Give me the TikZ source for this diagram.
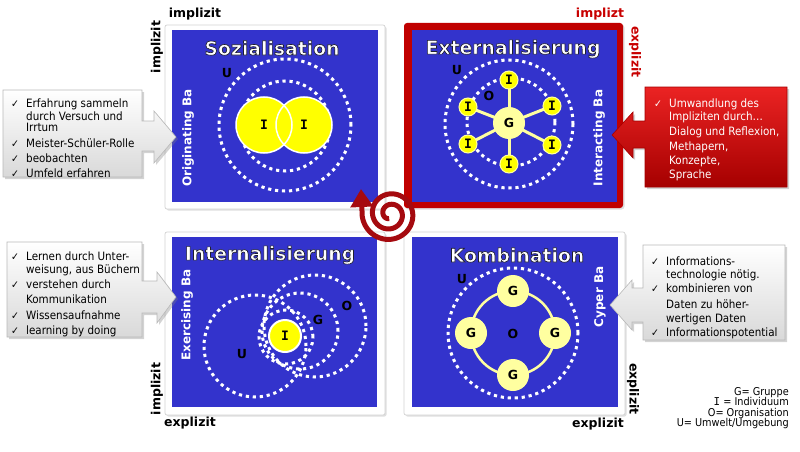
\documentclass[tikz,border=0pt]{standalone}
\usepackage{fontspec}
\setmainfont{DejaVu Sans}
\newfontfamily\cond{DejaVu Sans Condensed}
\newfontfamily\monob{DejaVu Sans Mono}
\usetikzlibrary{shadows,arrows.meta}
\definecolor{qblue}{RGB}{51,51,204}
\definecolor{fred}{RGB}{192,0,0}
\definecolor{spred}{RGB}{165,10,15}
\definecolor{pale}{RGB}{255,255,160}
\definecolor{yel}{RGB}{255,255,0}
\definecolor{lblred}{RGB}{200,0,0}
\definecolor{rtop}{RGB}{235,35,35}
\definecolor{rbot}{RGB}{165,0,0}
\newcommand\outl[1]{\special{pdf:literal direct 0.12 0.12 0.18 RG 0.65 w 2 Tr}#1\special{pdf:literal direct 0 Tr 1 G}}
\newcommand\ck{\makebox[15pt][l]{\fontsize{10.5}{10}\selectfont ✓}}
\begin{document}
\begin{tikzpicture}[x=1pt,y=-1pt,
  frm/.style={fill=white, draw=gray!35, line width=0.7pt, rounded corners=2pt,
    drop shadow={opacity=0.25, shadow xshift=1.5pt, shadow yshift=-1.5pt}},
  dots/.style={draw=white, line width=3pt, dash pattern=on 3.2pt off 3.8pt},
  title/.style={font=\bfseries\fontsize{18.8}{20}\selectfont, text=white, inner sep=0pt},
  ba/.style={font=\bfseries\fontsize{12}{14}\selectfont, text=white, rotate=90, inner sep=0pt},
  axl/.style={font=\bfseries\fontsize{12.5}{14}\selectfont, inner sep=0pt},
  lab/.style={font=\bfseries\fontsize{12.5}{14}\selectfont, inner sep=0pt},
  ilab/.style={font=\monob\bfseries\fontsize{13}{14}\selectfont, inner sep=0pt},
  yelc/.style={fill=yel, draw=white, line width=1.5pt},
  ic/.style={fill=yel, draw=pale, line width=1pt},
  spoke/.style={draw=pale, line width=3pt},
  callg/.style={draw=gray!55, line width=0.6pt, top color=white, bottom color=gray!30,
    drop shadow={opacity=0.35, shadow xshift=2pt, shadow yshift=-2pt}},
  callr/.style={draw=rbot, line width=0.6pt, top color=rtop, bottom color=rbot,
    drop shadow={opacity=0.35, shadow xshift=2pt, shadow yshift=-2pt}},
  ctext/.style={font=\cond\fontsize{11.5}{11.5}\selectfont, inner sep=0pt, anchor=north west}
]
\useasboundingbox (0,0) rectangle (800,452);

% frames
\path[frm] (165,25) rectangle (385,209);
\path[frm] (165,232) rectangle (385,415);
\path[frm] (404,232) rectangle (625,415);
\path[fill=fred, rounded corners=3pt, drop shadow={opacity=0.25, shadow xshift=1.5pt, shadow yshift=-1.5pt}] (404,23) rectangle (623,208);
\fill[qblue] (172,30) rectangle (378,202);
\fill[qblue] (412,30) rectangle (617,202);
\fill[qblue] (172,237) rectangle (377,407);
\fill[qblue] (412,237) rectangle (618,407);

% titles
\node[title] (t1) at (272,48) {\outl{Sozialisation}};
\node[title] (t2) at (513,49) {\outl{Externalisierung}};
\node[title] (t3) at (270,255) {\outl{Internalisierung}};
\node[title] (t4) at (517,255) {\outl{Kombination}};

% Ba labels
\node[ba] (ba1) at (188,138) {Originating Ba};
\node[ba] (ba2) at (599,138) {Interacting Ba};
\node[ba] (ba3) at (187,315) {Exercising Ba};
\node[ba] (ba4) at (600,297) {Cyper Ba};

% axis labels
\node[axl] (a1) at (195,14) {implizit};
\node[axl, rotate=90] (a2) at (157,47) {implizit};
\node[axl, text=lblred] (a3) at (600,14) {implizt};
\node[axl, text=lblred, rotate=-90] (a4) at (635,52) {explizit};
\node[axl, rotate=90] (a5) at (157,389) {implizit};
\node[axl] (a6) at (190,423) {explizit};
\node[axl, rotate=-90] (a7) at (633,389) {explizit};
\node[axl] (a8) at (598,424) {explizit};

% Sozialisation
\draw[dots] (285,125) circle (66pt);
\draw[dots] (285,126) circle (45pt);
\fill[yel] (264,125) circle (28pt);
\fill[yel] (304,125) circle (28pt);
\draw[white, line width=1.5pt] (264,125) circle (28pt) (304,125) circle (28pt);
\node[ilab] (s1) at (264,125) {I};
\node[ilab] (s2) at (304,125) {I};
\node[lab] (su) at (227,73) {U};

% Externalisierung
\draw[dots] (509,124) circle (64pt);
\draw[dots] (511,122) circle (44pt);
\coordinate (gc) at (509,123);
\foreach \p in {(509,80),(468,107),(552,106),(468,144),(552,145),(509,164)}
  \draw[spoke] (gc) -- \p;
\fill[pale] (gc) circle (16pt);
\node[lab] (eg) at (gc) {G};
\foreach \p/\n in {(509,80)/e1,(468,107)/e2,(552,106)/e3,(468,144)/e4,(552,145)/e5,(509,164)/e6}{
  \path[ic] \p circle (9pt);
  \node[ilab] (\n) at \p {I};
}
\node[lab] (eu) at (457,70) {U};
\node[lab] (eo) at (489,96) {O};

% Internalisierung
\draw[dots] (255,346) circle (51pt);
\draw[dots] (315,326) circle (51pt);
\draw[dots] (300,331) circle (38pt);
\draw[dots] (286,337) circle (27pt);
\path[yelc, line width=2pt] (285,336) circle (16pt);
\node[ilab] (ii) at (285,336) {I};
\node[lab] (io) at (347,306) {O};
\node[lab] (ig) at (318,320) {G};
\node[lab] (iu) at (242,354) {U};

% Kombination
\draw[dots] (513,333) circle (65pt);
\draw[pale, line width=2.5pt] (513,333) circle (42pt);
\foreach \p/\n in {(513,291)/k1,(471,333)/k2,(555,333)/k3,(513,375)/k4}{
  \fill[pale] \p circle (16pt);
  \node[lab] (\n) at \p {G};
}
\node[lab] (ko) at (513,334) {O};
\node[lab] (ku) at (462,279) {U};

% callouts
\path[callg] (3,90) -- (142,90) -- (142,121) -- (154,121) -- (154,111) -- (176,137)
  -- (154,163) -- (154,151) -- (142,151) -- (142,177) -- (3,177) -- cycle;
\node[ctext] (c1) at (11,99) {\begin{tabular}{@{}l@{}l@{}}
\ck & Erfahrung sammeln\\
 & durch Versuch und\\
 & Irrtum\\[3.5pt]
\ck & Meister-Schüler-Rolle\\[2.5pt]
\ck & beobachten\\[2.5pt]
\ck & Umfeld erfahren
\end{tabular}};

\path[callr] (787,87) -- (645,87) -- (645,121) -- (633,121) -- (633,112) -- (612,135)
  -- (633,158) -- (633,148) -- (645,148) -- (645,187) -- (787,187) -- cycle;
\node[ctext, text=white] (c2) at (654,99) {\begin{tabular}{@{}l@{}l@{}}
\ck & Umwandlung des\\
 & Impliziten durch…\\[3.5pt]
 & Dialog und Reflexion,\\[2.5pt]
 & Methapern,\\[2.5pt]
 & Konzepte,\\[1.5pt]
 & Sprache
\end{tabular}};

\path[callg] (7,242) -- (142,242) -- (142,281) -- (157,281) -- (157,272) -- (176,297)
  -- (157,323) -- (157,313) -- (142,313) -- (142,337) -- (7,337) -- cycle;
\node[ctext] (c3) at (11,252) {\begin{tabular}{@{}l@{}l@{}}
\ck & Lernen durch Unter-\\
 & weisung, aus Büchern\\[3.5pt]
\ck & verstehen durch\\[2.5pt]
 & Kommunikation\\[3.5pt]
\ck & Wissensaufnahme\\[3.5pt]
\ck & learning by doing
\end{tabular}};

\path[callg] (785,245) -- (643,245) -- (643,288) -- (632,288) -- (632,280) -- (610,305)
  -- (632,330) -- (632,322) -- (643,322) -- (643,340) -- (785,340) -- cycle;
\node[ctext] (c4) at (651,257) {\begin{tabular}{@{}l@{}l@{}}
\ck & Informations-\\
 & technologie nötig.\\[2.5pt]
\ck & kombinieren von\\[3.5pt]
 & Daten zu höher-\\[1.5pt]
 & wertigen Daten\\[2.5pt]
\ck & Informationspotential
\end{tabular}};

% legend
\node[anchor=east, align=right, font=\cond\fontsize{10.8}{10.5}\selectfont, inner sep=0pt] (leg) at (789,408)
  {G= Gruppe\\ {\monob I} = Individuum\\ O= Organisation\\ U= Umwelt/Umgebung};

% spiral
\draw[spred, line width=5pt, -{Triangle[width=22pt,length=18pt]}]
  plot[smooth, domain=100:895, samples=160, variable=\t]
  ({390+(1.75+10.5*\t/360)*cos(\t)}, {214+(1.75+10.5*\t/360)*sin(\t)}) -- (361,189);
\end{tikzpicture}
\end{document}
